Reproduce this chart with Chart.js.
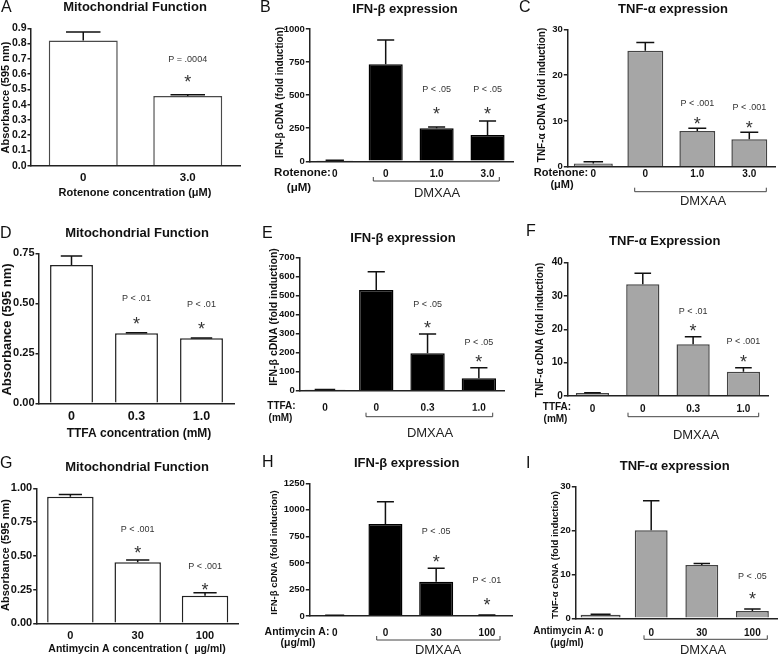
<!DOCTYPE html>
<html>
<head>
<meta charset="utf-8">
<script src="https://cdn.jsdelivr.net/npm/chart.js@4.4.1/dist/chart.umd.min.js"></script>
<style>
  html, body { margin: 0; padding: 0; background: #fff; }
  #wrap { position: relative; width: 778px; height: 655px; overflow: hidden; background: #fff; }
  canvas { position: absolute; left: 0; top: 0; }
</style>
</head>
<body>
<div id="wrap"></div>
<script>
// ---------------- DATA ----------------
// A: Rotenone - mitochondrial function
const catsA = ['0', '3.0'];
const valsA = [0.82, 0.457];
const errA  = [0.055, 0.008];
const pA    = ['', 'P = .0004'];
// B: Rotenone - IFN-beta
const catsB = ['0', '0', '1.0', '3.0'];
const valsB = [5, 733, 249, 199];
const errB  = [2, 184, 10, 106];
const pB    = ['', '', 'P < .05', 'P < .05'];
// C: Rotenone - TNF-alpha
const catsC = ['0', '0', '1.0', '3.0'];
const valsC = [0.7, 25.3, 7.8, 6.0];
const errC  = [0.4, 1.8, 0.6, 1.5];
const pC    = ['', '', 'P < .001', 'P < .001'];
// D: TTFA - mitochondrial function
const catsD = ['0', '0.3', '1.0'];
const valsD = [0.691, 0.35, 0.325];
const errD  = [0.046, 0.003, 0.002];
const pD    = ['', 'P < .01', 'P < .01'];
// E: TTFA - IFN-beta
const catsE = ['0', '0', '0.3', '1.0'];
const valsE = [5, 530, 197, 65];
const errE  = [1, 96, 101, 56];
const pE    = ['', '', 'P < .05', 'P < .05'];
// F: TTFA - TNF-alpha
const catsF = ['0', '0', '0.3', '1.0'];
const valsF = [0.9, 33.5, 15.5, 7.3];
const errF  = [0.1, 3.3, 2.3, 1.2];
const pF    = ['', '', 'P < .01', 'P < .001'];
// G: Antimycin A - mitochondrial function
const catsG = ['0', '30', '100'];
const valsG = [0.938, 0.452, 0.204];
const errG  = [0.017, 0.017, 0.023];
const pG    = ['', 'P < .001', 'P < .001'];
// H: Antimycin A - IFN-beta
const catsH = ['0', '0', '30', '100'];
const valsH = [5, 867, 323, 8];
const errH  = [1, 210, 126, 1];
const pH    = ['', '', 'P < .05', 'P < .01'];
// I: Antimycin A - TNF-alpha
const catsI = ['0', '0', '30', '100'];
const valsI = [0.8, 20.1, 12.15, 1.67];
const errI  = [0.15, 6.7, 0.35, 0.43];
const pI    = ['', '', '', 'P < .05'];

// ---------------- LAYOUT / STYLE ----------------
const FONT = '"Liberation Sans", Arial, Helvetica, sans-serif';
const WHITE = '#ffffff', BLACK = '#000000', GRAY = '#a6a6a6';

const panels = [
  { letter:'A', lx:1, ly:7.5, cats:catsA, vals:valsA, errs:errA, p:pA,
    x0:31, x1:240, yTop:28.3, y0:165.7, max:0.9, step:0.1, dec:1, fill:WHITE, edge:'#4a4a4a',
    pct:0.66, firstPct:0.66, yFont:10.5, xFont:11.5, tickY:176,
    title:'Mitochondrial Function', tx:135, ty:7.5,
    yTitle:'Absorbance (595 nm)', ytx:5.5, yty:97.5, ytSize:11,
    xTitle:'Rotenone concentration (\u03BCM)', xtx:135, xty:193, xtSize:11,
    pY:[null,60], astY:[null,77] },
  { letter:'B', lx:260, ly:8, cats:catsB, vals:valsB, errs:errB, p:pB,
    x0:309.3, x1:513, yTop:29, y0:161.3, max:1000, step:250, dec:0, fill:BLACK, edge:BLACK,
    pct:0.67, firstPct:0.72, yFont:9.5, xFont:10, tickY:173,
    title:'IFN-\u03B2 expression', tx:405, ty:9.3,
    yTitle:'IFN-\u03B2 cDNA (fold induction)', ytx:280, yty:92.5, ytSize:10,
    prefix:'Rotenone:', pxs:11.5, px:302.5, unit:'(\u03BCM)', ux:299, uy:188,
    bracket:[373.3, 499.3, 181], dmx:437, dmy:193,
    pY:[null,null,90,90], astY:[null,null,109,109] },
  { letter:'C', lx:519, ly:8, cats:catsC, vals:valsC, errs:errC, p:pC,
    x0:567.3, x1:775.3, yTop:29.3, y0:166.7, max:30, step:10, dec:0, fill:GRAY, edge:'#444',
    pct:0.69, firstPct:0.75, yFont:9.5, xFont:10, tickY:173,
    title:'TNF-\u03B1 expression', tx:673, ty:9.3,
    yTitle:'TNF-\u03B1 cDNA (fold induction)', ytx:542, yty:95, ytSize:10,
    prefix:'Rotenone:', pxs:11, px:561, unit:'(\u03BCM)', ux:562, uy:185,
    bracket:[634.7, 766.3, 191.7], dmx:703, dmy:201.7,
    pY:[null,null,104,107.3], astY:[null,null,119,123.3] },
  { letter:'D', lx:0, ly:234, cats:catsD, vals:valsD, errs:errD, p:pD,
    x0:39, x1:234, yTop:253.3, y0:403.3, max:0.75, step:0.25, dec:2, fill:WHITE, edge:'#222',
    pct:0.66, firstPct:0.66, yFont:11, xFont:12.5, tickY:415,
    title:'Mitochondrial Function', tx:137, ty:233.3,
    yTitle:'Absorbance (595 nm)', ytx:7.5, yty:329.5, ytSize:13,
    xTitle:'TTFA concentration (mM)', xtx:139, xty:434, xtSize:12,
    pY:[null,298.3,305], astY:[null,319,324] },
  { letter:'E', lx:262, ly:234, cats:catsE, vals:valsE, errs:errE, p:pE,
    x0:299.3, x1:504.5, yTop:257.7, y0:390.7, max:700, step:100, dec:0, fill:BLACK, edge:BLACK,
    pct:0.67, firstPct:0.8, yFont:9.5, xFont:10, tickY:406.7,
    title:'IFN-\u03B2 expression', tx:403, ty:238,
    yTitle:'IFN-\u03B2 cDNA (fold induction)', ytx:274, yty:317, ytSize:10.5,
    prefix:'TTFA:', pxs:10, px:281.5, unit:'(mM)', ux:280.5, uy:418,
    bracket:[366, 492.7, 416.7], dmx:430, dmy:433,
    pY:[null,null,305,342.3], astY:[null,null,323.3,356.7] },
  { letter:'F', lx:526, ly:232, cats:catsF, vals:valsF, errs:errF, p:pF,
    x0:567.3, x1:768.6, yTop:262.7, y0:396, max:40, step:10, dec:0, fill:GRAY, edge:'#444',
    pct:0.66, firstPct:0.66, yFont:10, xFont:10, tickY:407.7,
    title:'TNF-\u03B1 Expression', tx:664.7, ty:241.7,
    yTitle:'TNF-\u03B1 cDNA (fold induction)', ytx:540.5, yty:330, ytSize:10,
    prefix:'TTFA:', pxs:10, px:557, unit:'(mM)', ux:555.5, uy:419,
    bracket:[628, 758.7, 416.7], dmx:696, dmy:435,
    pY:[null,null,311.7,341.7], astY:[null,null,326,356.7] },
  { letter:'G', lx:0, ly:464, cats:catsG, vals:valsG, errs:errG, p:pG,
    x0:36.7, x1:238.7, yTop:488.3, y0:623.3, max:1, step:0.25, dec:2, fill:WHITE, edge:'#222',
    pct:0.69, firstPct:0.69, yFont:11, xFont:11, tickY:634,
    title:'Mitochondrial Function', tx:137, ty:467,
    yTitle:'Absorbance (595 nm)', ytx:6, yty:555, ytSize:11,
    xTitle:'Antimycin A concentration (  \u03BCg/ml)', xtx:137, xty:649, xtSize:10.5,
    pY:[null,530,566.7], astY:[null,548.3,585] },
  { letter:'H', lx:262, ly:463, cats:catsH, vals:valsH, errs:errH, p:pH,
    x0:309.3, x1:512.3, yTop:483.3, y0:616, max:1250, step:250, dec:0, fill:BLACK, edge:BLACK,
    pct:0.67, firstPct:0.75, yFont:9.5, xFont:10, tickY:631.7,
    title:'IFN-\u03B2 expression', tx:406.7, ty:463.3,
    yTitle:'IFN-\u03B2 cDNA (fold induction)', ytx:274, yty:552.5, ytSize:9.5,
    prefix:'Antimycin A:', pxs:10.5, px:297, unit:'(\u03BCg/ml)', ux:298, uy:643.3,
    bracket:[376.7, 500, 640], dmx:438, dmy:650.7,
    pY:[null,null,531.7,580.7], astY:[null,null,557.3,600] },
  { letter:'I', lx:526, ly:464, cats:catsI, vals:valsI, errs:errI, p:pI,
    x0:575.3, x1:777.7, yTop:486.7, y0:618.3, max:30, step:10, dec:0, fill:GRAY, edge:'#444',
    pct:0.65, firstPct:0.79, yFont:9.5, xFont:10, tickY:631.7,
    title:'TNF-\u03B1 expression', tx:674.7, ty:466,
    yTitle:'TNF-\u03B1 cDNA (fold induction)', ytx:555.5, yty:555, ytSize:9.5,
    prefix:'Antimycin A:', pxs:10, px:564, unit:'(\u03BCg/ml)', ux:567, uy:643.3,
    bracket:[644, 767.3, 639.3], dmx:703, dmy:650.7,
    pY:[null,null,null,576.7], astY:[null,null,null,594] }
];

const W = 778, H = 655, XH = 20;

function txt(ctx, s, x, y, size, weight, color, align, rot) {
  ctx.save();
  ctx.font = weight + ' ' + size + 'px ' + FONT;
  ctx.fillStyle = color;
  ctx.textAlign = align || 'center';
  ctx.textBaseline = 'middle';
  if (rot) { ctx.translate(x, y); ctx.rotate(-Math.PI / 2); ctx.fillText(s, 0, 0); }
  else ctx.fillText(s, x, y);
  ctx.restore();
}

function decoPlugin(p) {
  return {
    id: 'deco' + p.letter,
    afterDatasetsDraw(chart) {
      const ctx = chart.ctx, ys = chart.scales.y;
      ctx.save();
      ctx.strokeStyle = '#111';
      ctx.lineWidth = 1.5;
      chart.data.datasets.forEach((ds, di) => {
        const meta = chart.getDatasetMeta(di);
        meta.data.forEach((el, i) => {
          if (ds.data[i] == null || !p.errs[i]) return;
          const top = ys.getPixelForValue(ds.data[i] + p.errs[i]);
          const half = el.width / 4;
          ctx.beginPath();
          ctx.moveTo(el.x, el.y); ctx.lineTo(el.x, top);
          ctx.moveTo(el.x - half, top); ctx.lineTo(el.x + half, top);
          ctx.stroke();
        });
      });
      ctx.restore();
    },
    afterDraw(chart) {
      const ctx = chart.ctx, xs = chart.scales.x;
      txt(ctx, p.letter, p.lx, p.ly, 16, 'normal', '#111', 'left');
      txt(ctx, p.title, p.tx, p.ty, 13, 'bold', '#111');
      txt(ctx, p.yTitle, p.ytx, p.yty, p.ytSize, 'bold', '#111', 'center', true);
      if (p.xTitle) txt(ctx, p.xTitle, p.xtx, p.xty, p.xtSize, 'bold', '#111');
      if (p.prefix) {
        txt(ctx, p.prefix, p.px, p.tickY, p.pxs, 'bold', '#111');
        txt(ctx, p.unit, p.ux, p.uy, p.pxs, 'bold', '#111');
        const b = p.bracket;
        ctx.save();
        ctx.strokeStyle = '#444'; ctx.lineWidth = 1;
        ctx.beginPath();
        ctx.moveTo(b[0], b[2] - 4); ctx.lineTo(b[0], b[2]); ctx.lineTo(b[1], b[2]); ctx.lineTo(b[1], b[2] - 4);
        ctx.stroke();
        ctx.restore();
        txt(ctx, 'DMXAA', p.dmx, p.dmy, 13, 'normal', '#222');
      }
      p.p.forEach((lab, i) => {
        if (!lab) return;
        const x = xs.getPixelForValue(i);
        txt(ctx, lab, x, p.pY[i], 9, 'normal', '#333');
        ctx.save();
        ctx.font = 'normal 18px ' + FONT;
        ctx.fillStyle = '#333';
        ctx.textAlign = 'center';
        ctx.textBaseline = 'alphabetic';
        ctx.fillText('*', x, p.astY[i] + 11);
        ctx.restore();
      });
    }
  };
}

const wrap = document.getElementById('wrap');
panels.forEach(p => {
  const cv = document.createElement('canvas');
  cv.width = W; cv.height = H;
  cv.style.width = W + 'px'; cv.style.height = H + 'px';
  wrap.appendChild(cv);
  const yw = Math.min(40, p.x0);
  new Chart(cv.getContext('2d'), {
    type: 'bar',
    data: {
      labels: p.cats,
      datasets: [
        { data: p.vals.map((v, i) => i === 0 ? v : null), barPercentage: p.firstPct, categoryPercentage: 1,
          grouped: false, backgroundColor: p.fill, borderColor: p.edge, borderWidth: 1.5 },
        { data: p.vals.map((v, i) => i === 0 ? null : v), barPercentage: p.pct, categoryPercentage: 1,
          grouped: false, backgroundColor: p.fill, borderColor: p.edge, borderWidth: 1.5 }
      ]
    },
    options: {
      responsive: false, animation: false, devicePixelRatio: 1,
      layout: { padding: { left: p.x0 - yw, top: p.yTop, right: W - p.x1, bottom: H - p.y0 - XH } },
      plugins: { legend: { display: false }, title: { display: false }, tooltip: { enabled: false } },
      scales: {
        x: {
          grid: { display: true, drawOnChartArea: false, drawTicks: false },
          border: { display: true, color: '#222', width: 1.5 },
          ticks: { font: { family: FONT, size: p.xFont, weight: 'bold' }, color: '#111',
                   padding: p.tickY - p.y0 - p.xFont * 0.45, maxRotation: 0, autoSkip: false },
          afterFit: s => { s.height = XH; }
        },
        y: {
          min: 0, max: p.max,
          grid: { display: true, drawOnChartArea: false, drawTicks: true, tickLength: 3.5, color: '#222', lineWidth: 1.5 },
          border: { display: true, color: '#222', width: 1.5 },
          ticks: { stepSize: p.step, autoSkip: false, font: { family: FONT, size: p.yFont, weight: 'bold' }, color: '#111', padding: 1,
                   callback: v => Number(v).toFixed(p.dec) },
          afterFit: s => { s.width = yw; }
        }
      }
    },
    plugins: [decoPlugin(p)]
  });
});
</script>
</body>
</html>
